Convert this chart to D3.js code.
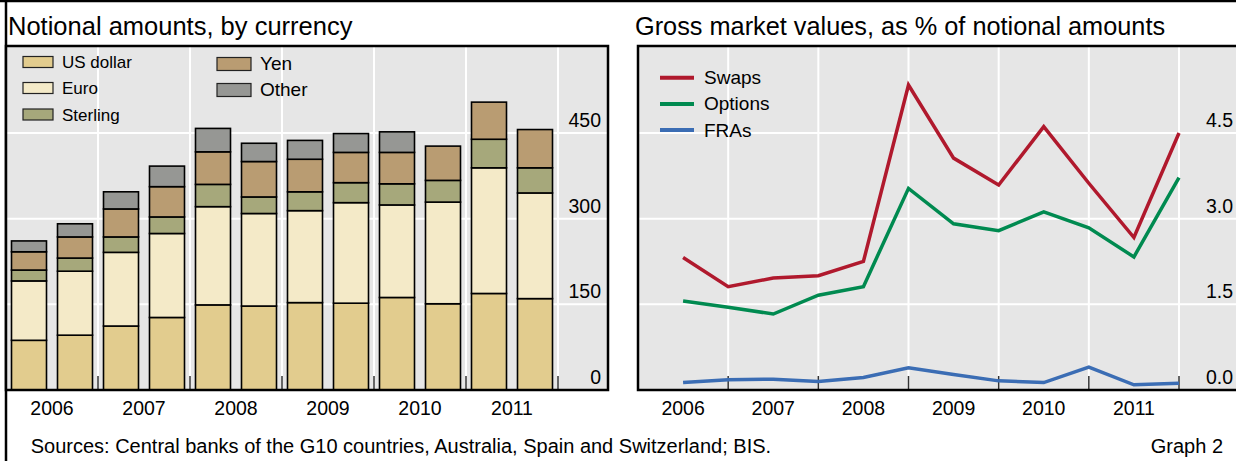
<!DOCTYPE html>
<html>
<head>
<meta charset="utf-8">
<script src="https://cdn.jsdelivr.net/npm/d3@7"></script>
<style>
  body { margin: 0; background: #fff; }
  svg { display: block; font-family: "Liberation Sans", Arial, sans-serif; }
</style>
</head>
<body>
<script>
// ---- data ----
var years = [2006, 2007, 2008, 2009, 2010, 2011];
var periods = ["H1 2006", "H2 2006", "H1 2007", "H2 2007", "H1 2008", "H2 2008",
               "H1 2009", "H2 2009", "H1 2010", "H2 2010", "H1 2011", "H2 2011"];

var usDollar = [87, 96, 112, 127, 149, 147, 153, 152, 162, 151, 169, 160];
var euro     = [104, 112, 129, 147, 172, 162, 161, 176, 162, 178, 220, 185];
var sterling = [19, 23, 27, 29, 39, 29, 33, 35, 37, 38, 50, 44];
var yen      = [32, 37, 49, 53, 57, 62, 57, 53, 55, 60, 65, 67];
var other    = [19, 23, 30, 36, 41, 32, 33, 33, 36, 0, 0, 0];

var swaps   = [2.32, 1.81, 1.96, 2.00, 2.25, 5.34, 4.06, 3.59, 4.61, 3.62, 2.67, 4.50];
var options = [1.56, 1.45, 1.33, 1.66, 1.81, 3.53, 2.91, 2.79, 3.12, 2.84, 2.33, 3.72];
var fras    = [0.13, 0.18, 0.19, 0.15, 0.22, 0.39, 0.27, 0.16, 0.13, 0.40, 0.09, 0.12];

var leftTicks = [0, 150, 300, 450];
var rightTicks = [0, 1.5, 3.0, 4.5];

var currencies = ["US dollar", "Euro", "Sterling", "Yen", "Other"];
var currencyColors = ["#e2cc8e", "#f4eac8", "#a6a87b", "#b99c72", "#969794"];
var lineNames = ["Swaps", "Options", "FRAs"];
var lineColors = ["#b0192d", "#008a50", "#3b6db4"];

// ---- layout ----
var W = 1236, H = 461,
    plotTop = 46, plotBottom = 390,
    left1 = 6, right1 = 608,
    left2 = 638, right2 = 1240;

var svg = d3.select("body").append("svg")
    .attr("width", W)
    .attr("height", H);

// outer frame
svg.append("line").attr("x1", 0).attr("x2", W).attr("y1", 1).attr("y2", 1)
    .attr("stroke", "#000").attr("stroke-width", 2.5);
svg.append("line").attr("x1", left1).attr("x2", left1).attr("y1", 0).attr("y2", H)
    .attr("stroke", "#000").attr("stroke-width", 2.5);

// titles
svg.append("text").attr("x", 8).attr("y", 35).attr("font-size", 25.5)
    .text("Notional amounts, by currency");
svg.append("text").attr("x", 635).attr("y", 35).attr("font-size", 25.3)
    .text("Gross market values, as % of notional amounts");

// ---- left panel: stacked bars ----
var x1 = d3.scaleLinear().domain([2006, 2012]).range([left1, 558]);
var y1 = d3.scaleLinear().domain([0, 600]).range([plotBottom, 47.3]);

var g1 = svg.append("g");
g1.append("rect").attr("x", left1).attr("y", plotTop)
    .attr("width", right1 - left1).attr("height", plotBottom - plotTop)
    .attr("fill", "#e6e6e6");

g1.selectAll(".hgrid").data(leftTicks.slice(1)).enter().append("line")
    .attr("x1", left1).attr("x2", right1)
    .attr("y1", (d) => y1(d)).attr("y2", (d) => y1(d))
    .attr("stroke", "#fff").attr("stroke-width", 2);
g1.selectAll(".vgrid").data(years.slice(1).concat([2012])).enter().append("line")
    .attr("x1", (d) => x1(d)).attr("x2", (d) => x1(d))
    .attr("y1", plotTop).attr("y2", plotBottom)
    .attr("stroke", "#fff").attr("stroke-width", 2);

var table = periods.map((p, i) => ({
    period: p,
    pos: years[Math.floor(i / 2)] + (i % 2 == 0 ? 0.25 : 0.75),
    "US dollar": usDollar[i], "Euro": euro[i], "Sterling": sterling[i],
    "Yen": yen[i], "Other": other[i]
}));
var series = d3.stack().keys(currencies)(table);
var barW = 35;

g1.selectAll(".layer").data(series).enter().append("g")
    .attr("fill", (d, i) => currencyColors[i])
    .selectAll("rect")
    .data((d) => d.filter((s) => s[1] - s[0] > 0))
    .enter().append("rect")
    .attr("x", (d) => x1(d.data.pos) - barW / 2)
    .attr("width", barW)
    .attr("y", (d) => y1(d[1]))
    .attr("height", (d) => y1(d[0]) - y1(d[1]))
    .attr("stroke", "#000").attr("stroke-width", 1.6);

// small ticks at year boundaries
g1.selectAll(".tick").data(years.slice(1).concat([2012])).enter().append("line")
    .attr("x1", (d) => x1(d)).attr("x2", (d) => x1(d))
    .attr("y1", plotBottom - 14).attr("y2", plotBottom)
    .attr("stroke", "#333").attr("stroke-width", 1.5);

g1.selectAll(".ylab").data(leftTicks).enter().append("text")
    .attr("x", 601).attr("y", (d) => y1(d) - 6)
    .attr("text-anchor", "end").attr("font-size", 19.5)
    .text((d) => d);

g1.append("rect").attr("x", left1).attr("y", plotTop)
    .attr("width", right1 - left1).attr("height", plotBottom - plotTop)
    .attr("fill", "none").attr("stroke", "#000").attr("stroke-width", 2.5);

g1.selectAll(".xlab").data(years).enter().append("text")
    .attr("x", (d) => x1(d + 0.5)).attr("y", 415)
    .attr("text-anchor", "middle").attr("font-size", 19.5)
    .text((d) => d);

// legend
var legRows = [
    {x: 23, y: 62, h: 11, tx: 62},
    {x: 23, y: 88, h: 11, tx: 62},
    {x: 23, y: 114.5, h: 11, tx: 62},
    {x: 217, y: 64, h: 13, tx: 260},
    {x: 217, y: 90, h: 13, tx: 260}
];
var leg1 = g1.selectAll(".leg").data(currencies).enter().append("g");
leg1.append("rect")
    .attr("x", (d, i) => legRows[i].x).attr("y", (d, i) => legRows[i].y - legRows[i].h / 2)
    .attr("width", (d, i) => i < 3 ? 30 : 34).attr("height", (d, i) => legRows[i].h)
    .attr("fill", (d, i) => currencyColors[i])
    .attr("stroke", "#222").attr("stroke-width", 1.2);
leg1.append("text")
    .attr("x", (d, i) => legRows[i].tx).attr("y", (d, i) => legRows[i].y + 6)
    .attr("font-size", (d, i) => i < 3 ? 17 : 19)
    .text((d) => d);

// ---- right panel: lines ----
var x2 = d3.scaleLinear().domain([2006, 2012]).range([left2, 1179]);
var y2 = d3.scaleLinear().domain([0, 6]).range([plotBottom, 47.3]);

var g2 = svg.append("g");
g2.append("rect").attr("x", left2).attr("y", plotTop)
    .attr("width", right2 - left2).attr("height", plotBottom - plotTop)
    .attr("fill", "#e6e6e6");

g2.selectAll(".hgrid").data(rightTicks.slice(1)).enter().append("line")
    .attr("x1", left2).attr("x2", right2)
    .attr("y1", (d) => y2(d)).attr("y2", (d) => y2(d))
    .attr("stroke", "#fff").attr("stroke-width", 2);
g2.selectAll(".vgrid").data(years.slice(1).concat([2012])).enter().append("line")
    .attr("x1", (d) => x2(d)).attr("x2", (d) => x2(d))
    .attr("y1", plotTop).attr("y2", plotBottom)
    .attr("stroke", "#fff").attr("stroke-width", 2);

g2.selectAll(".tick").data(years.slice(1).concat([2012])).enter().append("line")
    .attr("x1", (d) => x2(d)).attr("x2", (d) => x2(d))
    .attr("y1", plotBottom - 14).attr("y2", plotBottom)
    .attr("stroke", "#333").attr("stroke-width", 1.5);

var line = d3.line()
    .x((d, i) => x2(2006 + (i + 1) * 0.5))
    .y((d) => y2(d));

[swaps, options, fras].forEach((s, k) => {
    g2.append("path").datum(s)
        .attr("d", line)
        .attr("fill", "none")
        .attr("stroke", lineColors[k])
        .attr("stroke-width", 3.5)
        .attr("stroke-linejoin", "miter");
});

g2.selectAll(".ylab").data(rightTicks).enter().append("text")
    .attr("x", 1233).attr("y", (d) => y2(d) - 6)
    .attr("text-anchor", "end").attr("font-size", 19.5)
    .text((d) => d.toFixed(1));

g2.append("rect").attr("x", left2).attr("y", plotTop)
    .attr("width", right2 - left2).attr("height", plotBottom - plotTop)
    .attr("fill", "none").attr("stroke", "#000").attr("stroke-width", 2.5);

g2.selectAll(".xlab").data(years).enter().append("text")
    .attr("x", (d) => x2(d + 0.5)).attr("y", 415)
    .attr("text-anchor", "middle").attr("font-size", 19.5)
    .text((d) => d);

var leg2 = g2.selectAll(".leg").data(lineNames).enter().append("g");
leg2.append("line")
    .attr("x1", 660).attr("x2", 694)
    .attr("y1", (d, i) => 77.7 + i * 26.2).attr("y2", (d, i) => 77.7 + i * 26.2)
    .attr("stroke", (d, i) => lineColors[i]).attr("stroke-width", 4);
leg2.append("text")
    .attr("x", 704).attr("y", (d, i) => 77.7 + i * 26.2 + 6.5)
    .attr("font-size", 19)
    .text((d) => d);

// footer
svg.append("text").attr("x", 30.7).attr("y", 452.5).attr("font-size", 20)
    .text("Sources: Central banks of the G10 countries, Australia, Spain and Switzerland; BIS.");
svg.append("text").attr("x", 1223).attr("y", 452.5).attr("font-size", 20)
    .attr("text-anchor", "end")
    .text("Graph 2");
</script>
</body>
</html>
